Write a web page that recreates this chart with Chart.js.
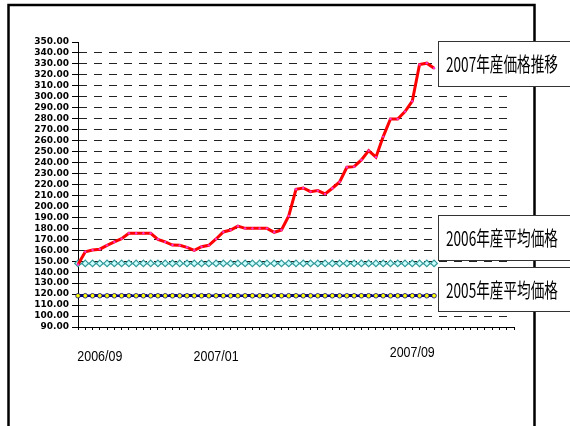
<!DOCTYPE html>
<html>
<head>
<meta charset="utf-8">
<script src="https://cdn.jsdelivr.net/npm/chart.js@4/dist/chart.umd.min.js"></script>
<style>
    html, body { margin: 0; padding: 0; background: #fff; }
    #wrap { position: relative; width: 570px; height: 426px; }
</style>
</head>
<body>
<div id="wrap"><canvas id="priceChart"></canvas></div>
<script>
// series names (shown in the boxes on the right)
const seriesNames = ['2007年産価格推移', '2006年産平均価格', '2005年産平均価格'];

// weekly prices of the 2007 crop
const price2007 = [
    147.0, 158.7, 160.3, 161.0, 164.5, 167.6, 170.6, 175.5, 175.5, 175.5,
    175.5, 170.0, 167.6, 164.8, 164.5, 162.7, 160.0, 163.3, 164.5, 170.3,
    176.7, 178.5, 182.0, 180.0, 180.0, 180.0, 180.0, 176.4, 178.5, 191.3,
    215.6, 216.8, 213.5, 214.4, 211.4, 216.6, 222.3, 235.7, 236.3, 242.4,
    250.9, 244.9, 263.7, 279.8, 279.8, 286.5, 296.0, 329.4, 330.7, 326.0
];

// average price lines
const avg2006 = [
    148, 148, 148, 148, 148, 148, 148, 148, 148, 148,
    148, 148, 148, 148, 148, 148, 148, 148, 148, 148,
    148, 148, 148, 148, 148, 148, 148, 148, 148, 148,
    148, 148, 148, 148, 148, 148, 148, 148, 148, 148,
    148, 148, 148, 148, 148, 148, 148, 148, 148, 148
];
const avg2005 = [
    118.5, 118.5, 118.5, 118.5, 118.5, 118.5, 118.5, 118.5, 118.5, 118.5,
    118.5, 118.5, 118.5, 118.5, 118.5, 118.5, 118.5, 118.5, 118.5, 118.5,
    118.5, 118.5, 118.5, 118.5, 118.5, 118.5, 118.5, 118.5, 118.5, 118.5,
    118.5, 118.5, 118.5, 118.5, 118.5, 118.5, 118.5, 118.5, 118.5, 118.5,
    118.5, 118.5, 118.5, 118.5, 118.5, 118.5, 118.5, 118.5, 118.5, 118.5
];

// x axis: weekly slots, only three dates are written under the axis
const slotCount = 61;
const dateLabels = ['2006/09', '2007/01', '2007/09'];
const dateLabelAt = [3, 19, 46];

// y axis range
const yMin = 90;
const yMax = 350;
const yStep = 10;

const categories = Array.from({ length: slotCount }, function (_, i) { return String(i); });

// frame, name boxes and the date texts
const decorPlugin = {
    id: 'decor',
    beforeDraw: function (chart) {
        const ctx = chart.ctx;
        ctx.save();
        ctx.fillStyle = '#fff';
        ctx.fillRect(0, 0, chart.width, chart.height);
        ctx.strokeStyle = '#000';
        ctx.lineWidth = 2.5;
        ctx.beginPath();
        ctx.moveTo(8.5, 426);
        ctx.lineTo(8.5, 5);
        ctx.lineTo(534.5, 5);
        ctx.lineTo(534.5, 426);
        ctx.stroke();
        ctx.restore();
    },
    afterDraw: function (chart) {
        const ctx = chart.ctx;
        const x = chart.scales.x;

        // date texts under the axis
        ctx.save();
        ctx.fillStyle = '#000';
        ctx.font = '15px "Liberation Sans", Arial, sans-serif';
        ctx.textAlign = 'center';
        ctx.textBaseline = 'middle';
        const sx = 45 / ctx.measureText(dateLabels[0]).width;
        dateLabels.forEach(function (t, i) {
            const px = x.getPixelForValue(dateLabelAt[i]);
            const py = i === 2 ? 353 : 357;
            ctx.save();
            ctx.translate(px, py);
            ctx.scale(sx, 1);
            ctx.fillText(t, 0, 0);
            ctx.restore();
        });
        ctx.restore();

        // name boxes on the right
        const boxes = [
            { top: 41, bottom: 86 },
            { top: 215, bottom: 260 },
            { top: 267, bottom: 311 }
        ];
        ctx.save();
        ctx.font = '20px "Noto Sans CJK JP", sans-serif';
        ctx.textBaseline = 'middle';
        ctx.textAlign = 'left';
        const tx = 112 / ctx.measureText(seriesNames[0]).width;
        boxes.forEach(function (b, i) {
            ctx.fillStyle = '#fff';
            ctx.fillRect(438, b.top, 140, b.bottom - b.top);
            ctx.strokeStyle = '#333';
            ctx.lineWidth = 1;
            ctx.strokeRect(438.5, b.top + 0.5, 140, b.bottom - b.top);
            ctx.fillStyle = '#000';
            ctx.save();
            ctx.translate(446, (b.top + b.bottom) / 2 + 1);
            ctx.scale(tx, 1);
            ctx.fillText(seriesNames[i], 0, 0);
            ctx.restore();
        });
        ctx.restore();
    }
};

const chart = new Chart(document.getElementById('priceChart'), {
    type: 'line',
    data: {
        labels: categories,
        datasets: [
            {
                label: seriesNames[0],
                data: price2007,
                borderColor: '#ff0000',
                borderWidth: 3,
                pointRadius: 1.2,
                pointBackgroundColor: '#ff33cc',
                pointBorderWidth: 0,
                tension: 0
            },
            {
                label: seriesNames[1],
                data: avg2006,
                borderColor: '#339999',
                borderWidth: 1.5,
                pointStyle: 'rectRot',
                pointRadius: 3.3,
                pointBackgroundColor: '#ccffff',
                pointBorderColor: '#339999',
                pointBorderWidth: 1.2,
                tension: 0
            },
            {
                label: seriesNames[2],
                data: avg2005,
                borderColor: '#000080',
                borderWidth: 2.5,
                pointStyle: 'circle',
                pointRadius: 2.3,
                pointBackgroundColor: '#ffff00',
                pointBorderColor: '#000080',
                pointBorderWidth: 0.8,
                tension: 0
            }
        ]
    },
    options: {
        responsive: true,
        maintainAspectRatio: false,
        animation: false,
        layout: { padding: { left: 0, right: 56, top: 42, bottom: 0 } },
        plugins: {
            legend: { display: false },
            tooltip: { enabled: false }
        },
        scales: {
            x: {
                offset: false,
                afterFit: function (s) { s.height = 99; },
                grid: { drawOnChartArea: false, drawTicks: true, tickLength: 3, tickColor: '#000' },
                border: { color: '#000', width: 1 },
                ticks: { autoSkip: false, maxRotation: 0, callback: function () { return ''; } }
            },
            y: {
                min: yMin,
                max: yMax,
                afterFit: function (s) { s.width = 78; },
                grid: {
                    color: function (c) { return (c.tick && (c.tick.value === yMax || c.tick.value === yMin)) ? 'rgba(0,0,0,0)' : '#222'; },
                    lineWidth: 1,
                    tickLength: 6,
                    tickColor: '#000'
                },
                border: { color: '#000', width: 1, dash: [8, 7] },
                ticks: {
                    stepSize: yStep,
                    autoSkip: false,
                    padding: 3,
                    color: '#000',
                    font: { family: '"DejaVu Sans", sans-serif', size: 9, weight: 'bold' },
                    callback: function (v) { return Number(v).toFixed(2); }
                }
            }
        }
    },
    plugins: [decorPlugin]
});
</script>
</body>
</html>
